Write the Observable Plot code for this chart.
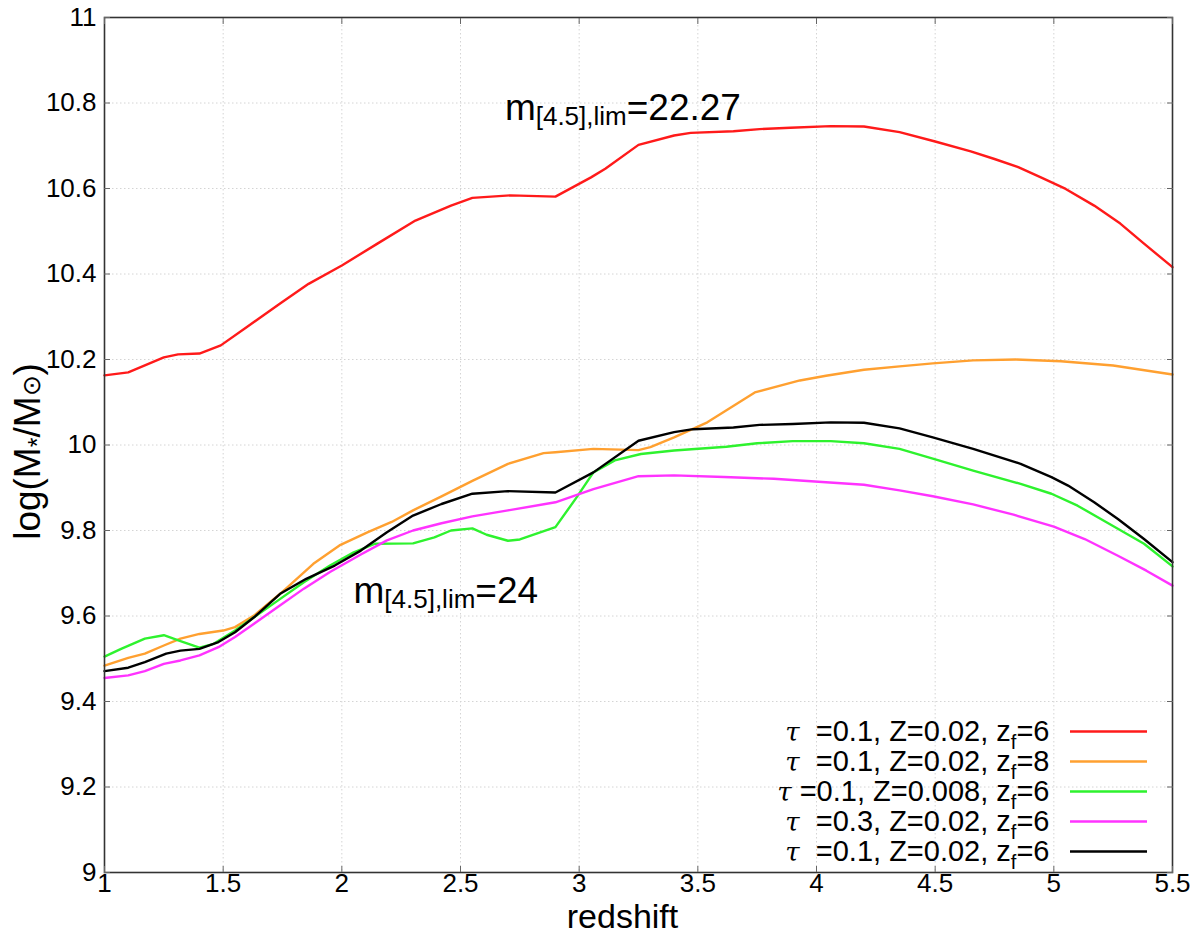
<!DOCTYPE html>
<html>
<head>
<meta charset="utf-8">
<script src="https://cdn.jsdelivr.net/npm/d3@7"></script>
<script src="https://cdn.jsdelivr.net/npm/@observablehq/plot@0.6"></script>
<style>
  html, body { margin: 0; padding: 0; background: #fff; }
  #chart svg { font-family: "Liberation Sans", Arial, Helvetica, sans-serif; }
</style>
</head>
<body>
<div id="chart"></div>
<script>
// ---- data ----
const xTicks = [1, 1.5, 2, 2.5, 3, 3.5, 4, 4.5, 5, 5.5];
const yTicks = [9, 9.2, 9.4, 9.6, 9.8, 10, 10.2, 10.4, 10.6, 10.8, 11];

const seriesIds = ["s1", "s2", "s3", "s4", "s5"];
const seriesLabels = [
  "!{τ}\u00a0 =0.1, Z=0.02, z_{f}=6",
  "!{τ}\u00a0 =0.1, Z=0.02, z_{f}=8",
  "!{τ} =0.1, Z=0.008, z_{f}=6",
  "!{τ}\u00a0 =0.3, Z=0.02, z_{f}=6",
  "!{τ}\u00a0 =0.1, Z=0.02, z_{f}=6"
];
const seriesColors = ["#ff1a1a", "#ffa030", "#2ef22e", "#ff33ff", "#000000"];

const redZ = [1.0,1.1,1.25,1.31,1.40,1.49,1.60,1.74,1.86,2.00,2.15,2.31,2.46,2.55,2.71,2.90,3.05,3.11,3.25,3.40,3.47,3.65,3.76,3.89,4.06,4.20,4.35,4.50,4.65,4.75,4.85,4.95,5.05,5.17,5.28,5.38,5.50];
const redM = [10.163,10.170,10.205,10.212,10.214,10.233,10.276,10.331,10.377,10.420,10.471,10.525,10.560,10.578,10.584,10.581,10.626,10.646,10.702,10.724,10.730,10.734,10.739,10.742,10.746,10.745,10.732,10.710,10.687,10.669,10.650,10.625,10.599,10.560,10.518,10.471,10.416];

const orangeZ = [1.0,1.10,1.17,1.25,1.32,1.40,1.50,1.55,1.63,1.74,1.88,1.99,2.11,2.21,2.30,2.42,2.55,2.70,2.85,2.90,3.06,3.25,3.30,3.40,3.54,3.74,3.93,4.04,4.20,4.35,4.49,4.66,4.84,5.03,5.25,5.50];
const orangeM = [9.484,9.502,9.512,9.531,9.547,9.558,9.566,9.574,9.601,9.652,9.722,9.765,9.796,9.820,9.847,9.880,9.916,9.956,9.981,9.983,9.991,9.988,9.995,10.018,10.053,10.123,10.151,10.162,10.176,10.184,10.191,10.198,10.200,10.196,10.186,10.165];

const greenZ = [1.0,1.07,1.17,1.25,1.32,1.40,1.46,1.55,1.63,1.73,1.84,1.95,2.05,2.14,2.30,2.39,2.46,2.55,2.61,2.70,2.75,2.90,2.99,3.06,3.15,3.26,3.40,3.62,3.75,3.90,4.06,4.20,4.35,4.49,4.66,4.86,4.99,5.10,5.22,5.38,5.50];
const greenM = [9.505,9.523,9.547,9.555,9.541,9.526,9.535,9.566,9.597,9.636,9.679,9.718,9.749,9.769,9.770,9.784,9.800,9.805,9.790,9.776,9.779,9.808,9.878,9.936,9.964,9.979,9.987,9.996,10.004,10.009,10.009,10.004,9.991,9.968,9.940,9.909,9.886,9.858,9.820,9.769,9.716];

const magentaZ = [1.0,1.10,1.17,1.25,1.32,1.40,1.48,1.55,1.63,1.73,1.84,1.95,2.08,2.19,2.30,2.42,2.55,2.70,2.90,3.06,3.25,3.40,3.61,3.82,3.93,4.04,4.20,4.35,4.49,4.66,4.83,5.00,5.13,5.27,5.39,5.50];
const magentaM = [9.455,9.461,9.471,9.488,9.496,9.508,9.527,9.551,9.582,9.621,9.664,9.703,9.744,9.777,9.800,9.817,9.833,9.847,9.866,9.897,9.927,9.929,9.925,9.921,9.917,9.913,9.907,9.894,9.880,9.861,9.837,9.809,9.780,9.741,9.706,9.671];

const blackZ = [1.0,1.10,1.17,1.26,1.32,1.40,1.48,1.55,1.63,1.74,1.85,1.97,2.08,2.19,2.30,2.42,2.55,2.70,2.90,3.06,3.25,3.40,3.48,3.65,3.76,3.90,4.06,4.20,4.35,4.49,4.66,4.86,4.99,5.06,5.17,5.27,5.38,5.50];
const blackM = [9.471,9.479,9.492,9.512,9.519,9.523,9.539,9.562,9.597,9.652,9.687,9.718,9.753,9.796,9.835,9.862,9.886,9.892,9.889,9.936,10.010,10.030,10.037,10.041,10.047,10.049,10.053,10.052,10.039,10.018,9.991,9.956,9.925,9.905,9.866,9.827,9.780,9.726];

const annotations = [
  {text: "m_{[4.5],lim}=22.27", z: 2.687, m: 10.789},
  {text: "m_{[4.5],lim}=24", z: 2.049, m: 9.657}
];

// ---- build table ----
const seriesZ = [redZ, orangeZ, greenZ, magentaZ, blackZ];
const seriesM = [redM, orangeM, greenM, magentaM, blackM];
const rows = seriesIds.flatMap((id, i) => seriesZ[i].map((z, j) => ({series: id, z, m: seriesM[i][j]})));

// ---- layout ----
const W = 1200, H = 935;
const mL = 104, mR = 28, mT = 17, mB = 63;
const xs = Plot.scale({x: {domain: [1, 5.5], range: [mL, W - mR]}});
const ys = Plot.scale({y: {domain: [9, 11], range: [H - mB, mT]}});

const legend = seriesIds.map((id, i) => ({
  series: id,
  label: seriesLabels[i],
  y: ys.invert(731 + 30 * i)
}));
const legendTextX = xs.invert(1049);
const legendLineX1 = xs.invert(1070);
const legendLineX2 = xs.invert(1147);

// y-axis title anchor (centre of the rotated label)
const yTitle = [{text: "log(M_{*}/M~{⊙})", z: xs.invert(28), m: ys.invert(451)}];

const fmt = d => `${d}`;

const chart = Plot.plot({
  width: W, height: H,
  marginLeft: mL, marginRight: mR, marginTop: mT, marginBottom: mB,
  style: {background: "#fff", color: "#000", fontFamily: "Liberation Sans, Arial, sans-serif"},
  x: {domain: [1, 5.5]},
  y: {domain: [9, 11]},
  color: {domain: seriesIds, range: seriesColors},
  marks: [
    Plot.gridX(xTicks, {stroke: "#d4d4d4", strokeOpacity: 1, strokeDasharray: "1.5,2.5", strokeWidth: 1}),
    Plot.gridY(yTicks, {stroke: "#d4d4d4", strokeOpacity: 1, strokeDasharray: "1.5,2.5", strokeWidth: 1}),
    Plot.line(rows, {x: "z", y: "m", z: "series", stroke: "series", strokeWidth: 2.4, strokeLinejoin: "round"}),
    Plot.frame({stroke: "#333", strokeWidth: 1.6}),
    // inward tick marks on all sides
    Plot.axisX(xTicks, {anchor: "bottom", tickSize: -6, fill: "none", label: null, tickFormat: () => "", stroke: "#666"}),
    Plot.axisX(xTicks, {anchor: "top", tickSize: -6, fill: "none", label: null, tickFormat: () => "", stroke: "#666"}),
    Plot.axisY(yTicks, {anchor: "left", tickSize: -6, fill: "none", label: null, tickFormat: () => "", stroke: "#666"}),
    Plot.axisY(yTicks, {anchor: "right", tickSize: -6, fill: "none", label: null, tickFormat: () => "", stroke: "#666"}),
    // tick labels
    Plot.axisX(xTicks, {anchor: "bottom", tickSize: 0, tickPadding: 1, fontSize: 26, tickFormat: fmt, label: null, fill: "#000"}),
    Plot.axisY(yTicks, {anchor: "left", tickSize: 0, tickPadding: 8, fontSize: 26, tickFormat: fmt, label: null, fill: "#000"}),
    // axis titles
    Plot.text(["redshift"], {frameAnchor: "bottom", text: d => d, dx: -16, dy: 55, fontSize: 34, lineAnchor: "bottom", fill: "#000"}),
    Plot.text(yTitle, {x: "z", y: "m", text: "text", rotate: -90, fontSize: 37, textAnchor: "middle", lineAnchor: "middle", fill: "#000", ariaDescription: "ylabel"}),
    // annotations
    Plot.text(annotations, {x: "z", y: "m", text: "text", textAnchor: "start", lineAnchor: "middle", fontSize: 37, fill: "#000", ariaDescription: "annot"}),
    // legend
    Plot.ruleY(legend, {y: "y", x1: legendLineX1, x2: legendLineX2, stroke: "series", strokeWidth: 2.4}),
    Plot.text(legend, {x: legendTextX, y: "y", text: "label", textAnchor: "end", lineAnchor: "middle", fontSize: 29, fill: "#000", ariaDescription: "legend"})
  ]
});

// ---- rich text (subscripts, small and italic glyphs) ----
const subStyle = {
  annot: {size: 26, shift: 5, greek: 36},
  legend: {size: 20, shift: 8, greek: 26},
  ylabel: {size: 25, shift: 6, greek: 34}
};
const NS = "http://www.w3.org/2000/svg";
function styleKeyOf(t) {
  let g = t.parentNode;
  while (g && g !== chart) {
    const a = g.getAttribute && g.getAttribute("aria-description");
    if (a && subStyle[a]) return a;
    g = g.parentNode;
  }
  const s = t.textContent;
  if (s.startsWith("log(")) return "ylabel";
  if (s.startsWith("m_{")) return "annot";
  return "legend";
}
chart.querySelectorAll("text").forEach(t => {
  const s = t.textContent;
  if (!/[_~!]\{/.test(s)) return;
  const st = subStyle[styleKeyOf(t)];
  const parts = s.split(/([_~!]\{[^}]*\})/).filter(p => p.length);
  t.textContent = "";
  let shifted = 0;
  parts.forEach(p => {
    const ts = document.createElementNS(NS, "tspan");
    if (p.startsWith("_{")) {
      ts.textContent = p.slice(2, -1);
      ts.setAttribute("font-size", st.size);
      ts.setAttribute("dy", st.shift - shifted);
      shifted = st.shift;
    } else if (p.startsWith("~{")) {
      ts.textContent = p.slice(2, -1);
      ts.setAttribute("font-size", st.size);
      if (shifted) ts.setAttribute("dy", -shifted);
      shifted = 0;
    } else if (p.startsWith("!{")) {
      ts.textContent = p.slice(2, -1);
      ts.setAttribute("font-style", "italic");
      ts.setAttribute("font-family", "DejaVu Serif, serif");
      ts.setAttribute("font-size", st.greek);
      if (shifted) ts.setAttribute("dy", -shifted);
      shifted = 0;
    } else {
      ts.textContent = p;
      if (shifted) ts.setAttribute("dy", -shifted);
      shifted = 0;
    }
    t.appendChild(ts);
  });
});

document.getElementById("chart").appendChild(chart);
</script>
</body>
</html>
